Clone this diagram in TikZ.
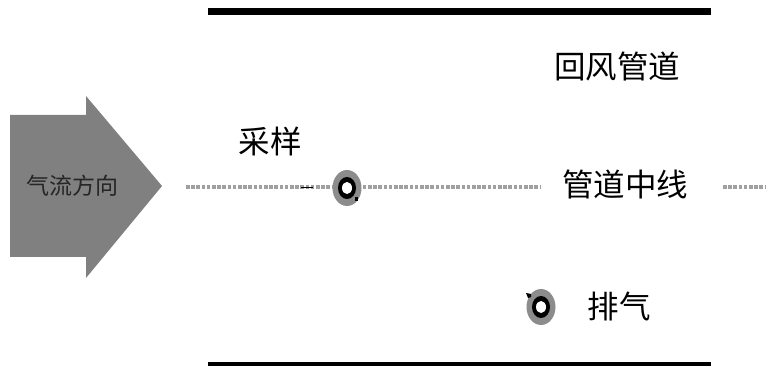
\documentclass[tikz,border=0pt]{standalone}
\usepackage{fontspec}
\setmainfont{Noto Sans CJK SC}
\usetikzlibrary{shapes.geometric}
\definecolor{flowgray}{HTML}{808080}
\definecolor{ringgray}{HTML}{8C8C8C}
\tikzset{
  x=1pt,y=-1pt,
  wall/.style={line width=6.5pt,black},
  centerline/.style={line width=4pt,flowgray!75!white,dash pattern=on 3.6pt off 1.6pt},
  lbl/.style={inner sep=0pt,font=\fontsize{31.5}{34}\selectfont,black},
  arrowlbl/.style={inner sep=0pt,font=\fontsize{23}{26}\selectfont,black!85},
  portouter/.style={ellipse,fill=ringgray,draw=none,inner sep=0pt,minimum width=29pt,minimum height=36pt},
  portmid/.style={ellipse,fill=black,draw=none,inner sep=0pt,minimum width=18pt,minimum height=22pt},
  portinner/.style={ellipse,fill=white,draw=none,inner sep=0pt,minimum width=10pt,minimum height=12pt},
}
\begin{document}
\begin{tikzpicture}
\useasboundingbox (0,0) rectangle (769,366);
\fill[white] (0,0) rectangle (769,366);
% walls
\coordinate (tl) at (208,11.5);
\coordinate (tr) at (711,11.5);
\coordinate (bl) at (208,365);
\coordinate (br) at (711,365);
\draw[wall] (tl) -- (tr);
\draw[wall] (bl) -- (br);
% flow arrow
\fill[flowgray] (10,115) -- (86,115) -- (86,96) -- (162,186) -- (86,278) -- (86,257) -- (10,257) -- cycle;
\node[arrowlbl] (flow) at (73,186) {气流方向};
% labels
\node[lbl] (duct) at (617,66) {回风管道};
\node[lbl] (sample) at (270,141) {采样};
\node[lbl] (mid) at (625,184) {管道中线};
\node[lbl] (exhaust) at (619,306) {排气};
% centre line
\coordinate (c1) at (186,187.5);
\coordinate (c2) at (541,187.5);
\coordinate (c3) at (723,187.5);
\coordinate (c4) at (766,187.5);
\draw[centerline] (c1) -- (c2);
\draw[centerline] (c3) -- (c4);
\coordinate (m1) at (301,187.5);
\coordinate (m2) at (313,187.5);
\draw[black,line width=1pt] (m1) -- (m2);
% sampling port
\node[portouter] (sp) at (347,188) {};
\node[portmid] (spm) at (347,188) {};
\node[portinner] (spi) at (347,188) {};
\fill[black] (354.5,197) rectangle (358,201);
% exhaust port
\node[portouter] (ep) at (541,307) {};
\node[portmid] (epm) at (541,307) {};
\node[portinner] (epi) at (541,307) {};
\fill[black] (526,293) -- (531,294) -- (531,297) -- (528,298) -- cycle;
\end{tikzpicture}
\end{document}
